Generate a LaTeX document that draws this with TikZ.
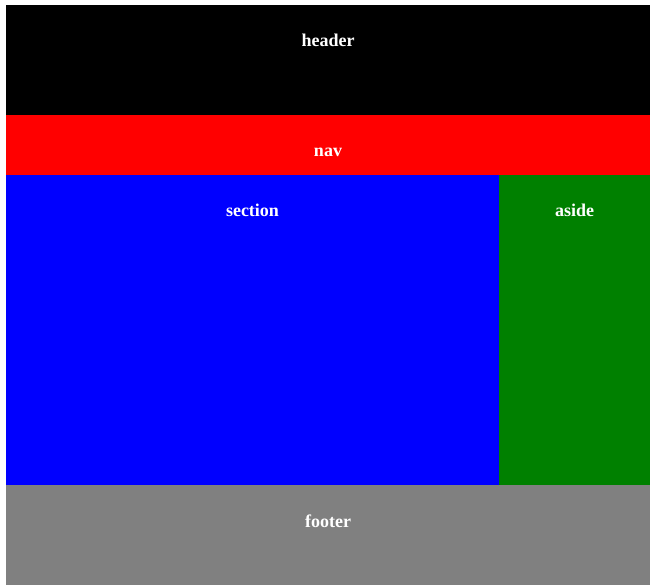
\documentclass[tikz,border=0pt]{standalone}
\usepackage{fontspec}
\setmainfont{Liberation Serif}
\tikzset{
    label text/.style={text=white, anchor=base, font=\fontsize{18}{20}\selectfont\bfseries}
}
\begin{document}
\begin{tikzpicture}[x=1pt, y=-1pt]
                    \useasboundingbox (0,0) rectangle (656,585);
                    \fill[white] (0,0) rectangle (656,585);

                    \fill[black] (6,5) rectangle (650,115);
                    \fill[red] (6,115) rectangle (650,175);
                    \fill[blue] (6,175) rectangle (499,485);
                    \fill[green!50!black] (499,175) rectangle (650,485);
                    \fill[gray] (6,485) rectangle (650,585);

                    \node[label text] (header) at (328,47) {header};
                    \node[label text] (nav) at (328,157) {nav};
                    \node[label text] (section) at (252.5,217) {section};
                    \node[label text] (aside) at (574.5,217) {aside};
                    \node[label text] (footer) at (328,527) {footer};
                \end{tikzpicture}
\end{document}
